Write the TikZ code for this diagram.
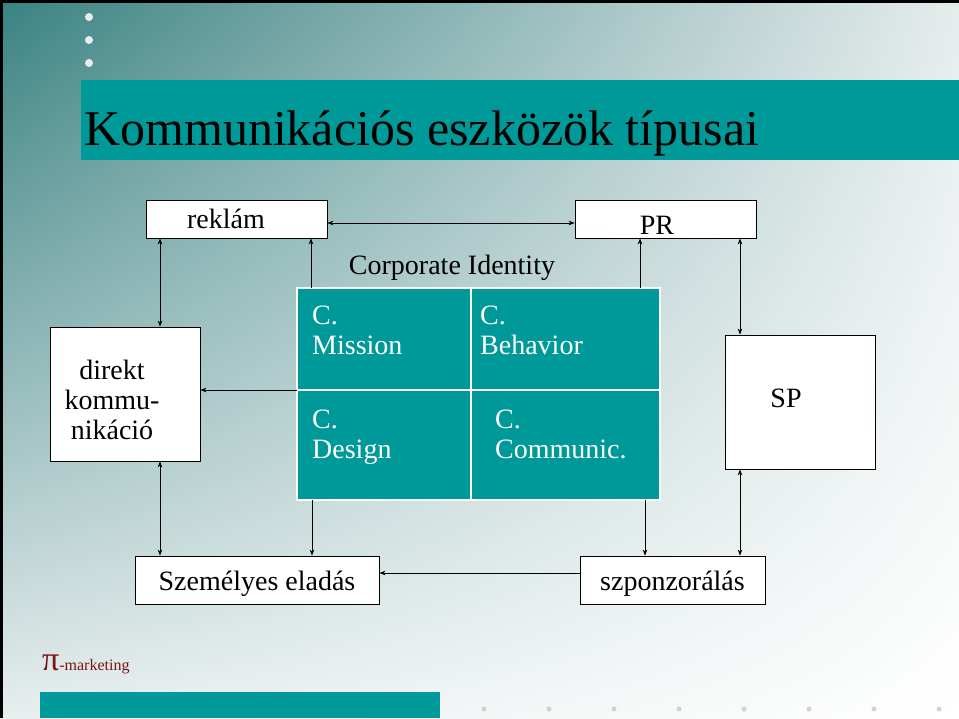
\documentclass[tikz,border=0pt]{standalone}
\usepackage{fontspec}
\setmainfont{Liberation Serif}
\usetikzlibrary{arrows.meta,shadings}
\definecolor{teal1}{HTML}{009999}
\definecolor{bgtl}{HTML}{3A8282}
\definecolor{bgtr}{HTML}{E6ECEC}
\definecolor{bgbl}{HTML}{E8EEEE}
\definecolor{pired}{HTML}{7A1414}
\tikzset{
  box/.style={draw=black, fill=white, line width=0.8pt, inner sep=0pt},
  conn/.style={line width=0.7pt, -{Stealth[length=6pt,width=4.5pt]}},
  conn2/.style={line width=0.7pt, {Stealth[length=6pt,width=4.5pt]}-{Stealth[length=6pt,width=4.5pt]}},
  wtxt/.style={text=white, font=\fontsize{28}{30}\selectfont, align=left, anchor=north west, inner sep=0pt},
  btxt/.style={font=\fontsize{28}{30}\selectfont, inner sep=0pt},
}
\begin{document}
\begin{tikzpicture}[x=1pt,y=-1pt]
\useasboundingbox (0,0) rectangle (959,718);
\shade[upper left=bgtl, upper right=bgtr, lower left=bgbl, lower right=white] (0,0) rectangle (959,718);
\draw[line width=3pt] (1.5,718) -- (1.5,1.5) -- (959,1.5);
\foreach \y in {17,40,63} \fill[white!85!gray] (89,\y) circle (4);
\fill[teal1] (81,80) rectangle (959,160);
\node[anchor=base west, inner sep=0pt, font=\fontsize{50}{52}\selectfont] (title) at (84,145) {Kommunikációs eszközök típusai};
% boxes
\node[box, minimum width=181, minimum height=38] (rek) at (236.5,219) {};
\node[btxt, anchor=base] at (226,228) {reklám};
\node[box, minimum width=181, minimum height=38] (pr) at (665.5,219) {};
\node[btxt, anchor=base] at (657,234) {PR};
\node[btxt, anchor=base] (ci) at (452,274) {Corporate Identity};
\node[box, minimum width=150, minimum height=134] (dk) at (125,394) {};
\node[btxt, align=center] at (112,400) {direkt\\kommu-\\nikáció};
\node[box, minimum width=150, minimum height=134] (sp) at (800,402) {};
\node[btxt] at (786,398) {SP};
\node[box, minimum width=244, minimum height=48] (sz) at (257,580) {};
\node[btxt, anchor=base] at (257,590) {Személyes eladás};
\node[box, minimum width=185, minimum height=48] (spo) at (672.5,580) {};
\node[btxt, anchor=base] at (672.5,590) {szponzorálás};
% grid
\fill[teal1] (297,288) rectangle (660,500);
\draw[white, line width=1.2pt] (297,288) rectangle (660,500) (471,288) -- (471,500) (297,390) -- (660,390);
\node[wtxt] (m) at (312,306) {C.\\Mission};
\node[wtxt] (b) at (480,306) {C.\\Behavior};
\node[wtxt] (d) at (312,410) {C.\\Design};
\node[wtxt] (c) at (495,410) {C.\\Communic.};
% connectors
\draw[conn2] (rek.east |- 0,223) -- (pr.west |- 0,223);
\draw[conn2] (rek.south -| 160,0) -- (dk.north -| 160,0);
\draw[conn] (311,288) -- (rek.south -| 311,0);
\draw[conn] (640,288) -- (pr.south -| 640,0);
\draw[conn2] (pr.south -| 740,0) -- (sp.north -| 740,0);
\draw[conn] (297,390) -- (dk.east |- 0,390);
\draw[conn2] (dk.south -| 160,0) -- (sz.north -| 160,0);
\draw[conn] (312,500) -- (sz.north -| 312,0);
\draw[conn] (645,500) -- (spo.north -| 645,0);
\draw[conn2] (sp.south -| 740,0) -- (spo.north -| 740,0);
\draw[conn] (spo.west |- 0,573) -- (sz.east |- 0,573);
% footer
\node[anchor=base west, inner sep=0pt, text=pired] (pi) at (42,670) {\fontsize{34}{34}\selectfont π\fontsize{16}{16}\selectfont -marketing};
\fill[teal1] (40,692) rectangle (440,718);
\foreach \x in {484,549,614,679,744,809,874,939} \fill[gray!35] (\x,709) circle (2.5);
\end{tikzpicture}
\end{document}
